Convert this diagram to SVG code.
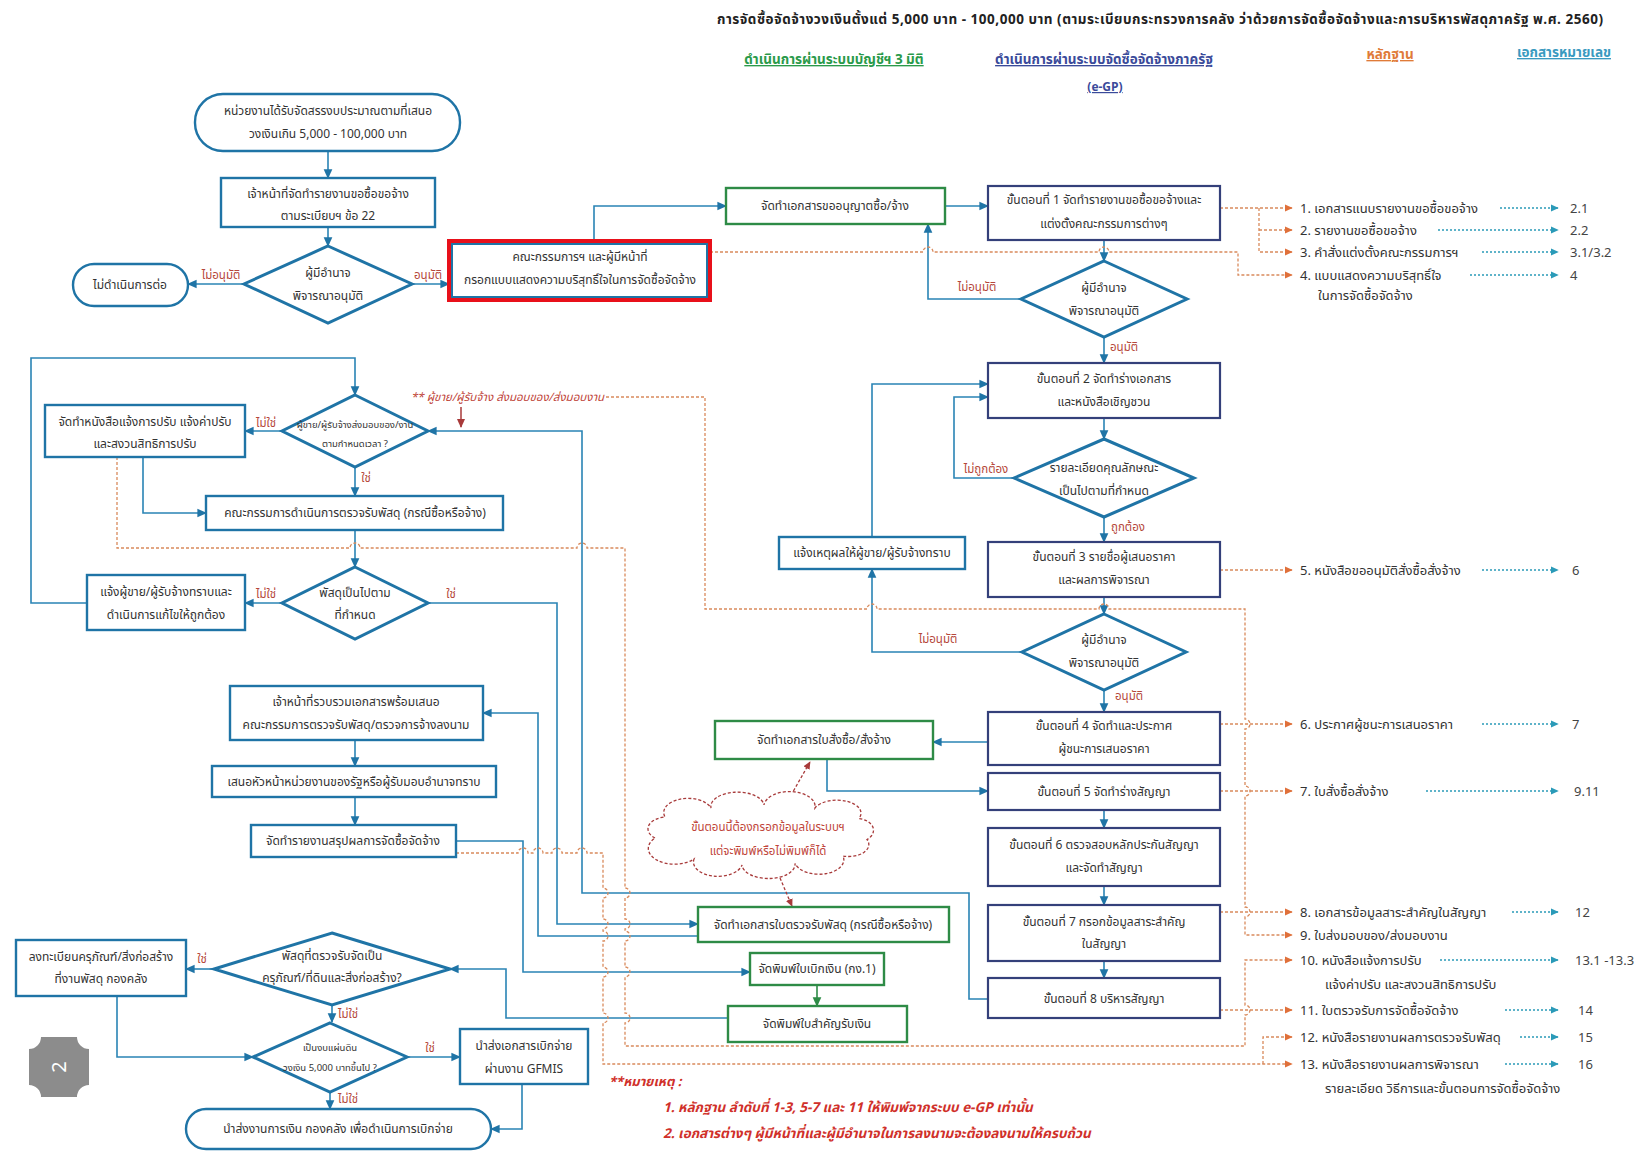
<svg xmlns="http://www.w3.org/2000/svg" width="1638" height="1152" viewBox="0 0 1638 1152">
<defs>
<style>
text{font-family:"Noto Sans Thai","Noto Sans","DejaVu Sans",sans-serif}
.t{font-size:12px;fill:#333;text-anchor:middle}
.ts{font-size:9.5px;fill:#333;text-anchor:middle}
.lbl{font-size:11.5px;fill:#b5473a;text-anchor:middle}
.ev{font-size:13px;fill:#333}
.num{font-size:13px;fill:#444}
.bb{fill:#fff;stroke:#1f74a6;stroke-width:2.4}
.dm{fill:#fff;stroke:#1f74a6;stroke-width:3}
.nv{fill:#fff;stroke:#34407a;stroke-width:2.2}
.gr{fill:#fff;stroke:#2e8b46;stroke-width:2.4}
.cb{fill:none;stroke:#2a84b5;stroke-width:1.6}
.cg{fill:none;stroke:#2e8b46;stroke-width:1.6}
.co{fill:none;stroke:#d98a5c;stroke-width:1.3;stroke-dasharray:3 2}
.ct{fill:none;stroke:#2a9ab8;stroke-width:1.3;stroke-dasharray:2 2}
.cr{fill:none;stroke:#a83a3a;stroke-width:1.3;stroke-dasharray:3 2}
</style>
<marker id="ab" viewBox="0 0 10 10" refX="9" refY="5" markerWidth="6" markerHeight="6" orient="auto"><path d="M0,0.5 L10,5 L0,9.5 z" fill="#1f74a6"/></marker>
<marker id="ag" viewBox="0 0 10 10" refX="9" refY="5" markerWidth="6" markerHeight="6" orient="auto"><path d="M0,0.5 L10,5 L0,9.5 z" fill="#2e8b46"/></marker>
<marker id="ao" viewBox="0 0 10 10" refX="9" refY="5" markerWidth="6" markerHeight="6" orient="auto"><path d="M0,0.5 L10,5 L0,9.5 z" fill="#e0703a"/></marker>
<marker id="at" viewBox="0 0 10 10" refX="9" refY="5" markerWidth="6" markerHeight="6" orient="auto"><path d="M0,0.5 L10,5 L0,9.5 z" fill="#2a9ab8"/></marker>
<marker id="ar" viewBox="0 0 10 10" refX="9" refY="5" markerWidth="6" markerHeight="6" orient="auto"><path d="M0,0.5 L10,5 L0,9.5 z" fill="#a83a3a"/></marker>
</defs>
<rect width="1638" height="1152" fill="#fff"/>

<g id="header">
<text x="717" y="24" style="font-size:13.5px;font-weight:bold;fill:#222" textLength="886">การจัดซื้อจัดจ้างวงเงินตั้งแต่ 5,000 บาท - 100,000 บาท (ตามระเบียบกระทรวงการคลัง ว่าด้วยการจัดซื้อจัดจ้างและการบริหารพัสดุภาครัฐ พ.ศ. 2560)</text>
<text x="834" y="64" text-anchor="middle" text-decoration="underline" style="font-size:13.5px;font-weight:bold;fill:#2a9a4a">ดำเนินการผ่านระบบบัญชีฯ 3 มิติ</text>
<text x="1104" y="64" text-anchor="middle" text-decoration="underline" style="font-size:13.5px;font-weight:bold;fill:#3a4a9a">ดำเนินการผ่านระบบจัดซื้อจัดจ้างภาครัฐ</text>
<text x="1105" y="91" text-anchor="middle" text-decoration="underline" style="font-size:12px;font-weight:bold;fill:#3a4a9a">(e-GP)</text>
<text x="1390" y="59" text-anchor="middle" text-decoration="underline" style="font-size:13.5px;font-weight:bold;fill:#e07b39">หลักฐาน</text>
<text x="1564" y="57" text-anchor="middle" text-decoration="underline" style="font-size:13.5px;font-weight:bold;fill:#3a9ac0">เอกสารหมายเลข</text>
</g>

<g id="connectors">
<path class="cb" marker-end="url(#ab)" d="M328 151 V178"/>
<path class="cb" marker-end="url(#ab)" d="M328 227 V246"/>
<path class="cb" marker-end="url(#ab)" d="M244 284 H188"/>
<path class="cb" marker-end="url(#ab)" d="M412 284 H449"/>
<path class="cb" marker-end="url(#ab)" d="M594 241 V206 H726"/>
<path class="cb" marker-end="url(#ab)" d="M945 206 H988"/>
<path class="cb" marker-end="url(#ab)" d="M1104 240 V261"/>
<path class="cb" marker-end="url(#ab)" d="M1021 299 H928 V224"/>
<path class="cb" marker-end="url(#ab)" d="M1104 337 V363"/>
<path class="cb" marker-end="url(#ab)" d="M1104 418 V439"/>
<path class="cb" marker-end="url(#ab)" d="M1014 478 H954 V397 H988"/>
<path class="cb" marker-end="url(#ab)" d="M1104 517 V542"/>
<path class="cb" marker-end="url(#ab)" d="M1104 597 V614"/>
<path class="cb" marker-end="url(#ab)" d="M1022 652 H872 V569"/>
<path class="cb" marker-end="url(#ab)" d="M872 537 V384 H988"/>
<path class="cb" marker-end="url(#ab)" d="M1104 690 V712"/>
<path class="cb" marker-end="url(#ab)" d="M988 742 H933"/>
<path class="cb" marker-end="url(#ab)" d="M827 759 V791 H988"/>
<path class="cb" marker-end="url(#ab)" d="M1104 810 V828"/>
<path class="cb" marker-end="url(#ab)" d="M1104 886 V905"/>
<path class="cb" marker-end="url(#ab)" d="M1104 961 V978"/>
<path class="cb" marker-end="url(#ab)" d="M988 999 H969 V893 H582 V431 H428"/>
<path class="cb" marker-end="url(#ab)" d="M87 603 H31 V358 H355 V395"/>
<path class="cb" marker-end="url(#ab)" d="M282 431 H245"/>
<path class="cb" marker-end="url(#ab)" d="M355 467 V496"/>
<path class="cb" marker-end="url(#ab)" d="M143 457 V513 H206"/>
<path class="cb" marker-end="url(#ab)" d="M355 530 V567"/>
<path class="cb" marker-end="url(#ab)" d="M282 603 H245"/>
<path class="cb" marker-end="url(#ab)" d="M428 603 H557 V924 H698"/>
<path class="cb" marker-end="url(#ab)" d="M698 936 H538 V713 H483"/>
<path class="cb" marker-end="url(#ab)" d="M355 740 V766"/>
<path class="cb" marker-end="url(#ab)" d="M355 797 V825"/>
<path class="cb" marker-end="url(#ab)" d="M456 841 H523 V972 H750"/>
<path class="cg" marker-end="url(#ag)" d="M817 985 V1006"/>
<path class="cb" marker-end="url(#ab)" d="M728 1018 H506 V969 H450"/>
<path class="cb" marker-end="url(#ab)" d="M214 969 H186"/>
<path class="cb" marker-end="url(#ab)" d="M332 1005 V1022"/>
<path class="cb" marker-end="url(#ab)" d="M117 996 V1057 H253"/>
<path class="cb" marker-end="url(#ab)" d="M407 1057 H460"/>
<path class="cb" marker-end="url(#ab)" d="M330 1092 V1109"/>
<path class="cb" marker-end="url(#ab)" d="M522 1084 V1129 H491"/>

<path class="co" marker-end="url(#ao)" d="M1220 208 H1292"/>
<path class="co" marker-end="url(#ao)" d="M1259 208 V252 H1292"/>
<path class="co" marker-end="url(#ao)" d="M1259 230 H1292"/>
<path class="co" marker-end="url(#ao)" d="M710 252 H923 A5 5 0 0 1 933 252 H1099 A5 5 0 0 1 1109 252 H1238 V275 H1292"/>
<path class="co" marker-end="url(#ao)" d="M1220 570 H1292"/>
<path class="co" marker-end="url(#ao)" d="M606 397 H705 V609 H867 A5 5 0 0 1 877 609 H1099 A5 5 0 0 1 1109 609 H1245 V719 A5 5 0 0 1 1245 729 V786 A5 5 0 0 1 1245 796 V907 A5 5 0 0 1 1245 917 V935 H1292"/>
<path class="co" marker-end="url(#ao)" d="M1220 724 H1292"/>
<path class="co" marker-end="url(#ao)" d="M1220 791 H1292"/>
<path class="co" marker-end="url(#ao)" d="M1220 912 H1292"/>
<path class="co" marker-end="url(#ao)" d="M1220 1010 H1292"/>
<path class="co" marker-end="url(#ao)" d="M117 457 V548 H350 A5 5 0 0 1 360 548 H577 A5 5 0 0 1 587 548 H625 V888 A5 5 0 0 1 625 898 V919 A5 5 0 0 1 625 929 V931 A5 5 0 0 1 625 941 V967 A5 5 0 0 1 625 977 V1013 A5 5 0 0 1 625 1023 V1046 H1245 V1015 A5 5 0 0 0 1245 1005 V960 H1292"/>
<path class="co" marker-end="url(#ao)" d="M456 853 H518 A5 5 0 0 1 528 853 H533 A5 5 0 0 1 543 853 H552 A5 5 0 0 1 562 853 H577 A5 5 0 0 1 587 853 H603 V888 A5 5 0 0 1 603 898 V919 A5 5 0 0 1 603 929 V931 A5 5 0 0 1 603 941 V967 A5 5 0 0 1 603 977 V1013 A5 5 0 0 1 603 1023 V1064 H1292"/>
<path class="co" marker-end="url(#ao)" d="M1263 1064 V1037 H1292"/>

<path class="ct" marker-end="url(#at)" d="M1500 208 H1558"/>
<path class="ct" marker-end="url(#at)" d="M1438 230 H1558"/>
<path class="ct" marker-end="url(#at)" d="M1482 252 H1558"/>
<path class="ct" marker-end="url(#at)" d="M1470 275 H1558"/>
<path class="ct" marker-end="url(#at)" d="M1482 570 H1558"/>
<path class="ct" marker-end="url(#at)" d="M1482 724 H1558"/>
<path class="ct" marker-end="url(#at)" d="M1426 791 H1558"/>
<path class="ct" marker-end="url(#at)" d="M1512 912 H1558"/>
<path class="ct" marker-end="url(#at)" d="M1440 960 H1558"/>
<path class="ct" marker-end="url(#at)" d="M1505 1010 H1558"/>
<path class="ct" marker-end="url(#at)" d="M1520 1037 H1558"/>
<path class="ct" marker-end="url(#at)" d="M1505 1064 H1558"/>

<path class="cr" marker-end="url(#ar)" d="M786 804 L810 762"/>
<path class="cr" marker-end="url(#ar)" d="M780 878 L792 906"/>
<path fill="none" stroke="#a83a3a" stroke-width="1.5" marker-end="url(#ar)" d="M461 407 V427"/>
</g>

<g id="conn-labels">
<text class="lbl" x="221" y="279">ไม่อนุมัติ</text>
<text class="lbl" x="428" y="279">อนุมัติ</text>
<text class="lbl" x="977" y="291">ไม่อนุมัติ</text>
<text class="lbl" x="1124" y="351">อนุมัติ</text>
<text class="lbl" x="986" y="473">ไม่ถูกต้อง</text>
<text class="lbl" x="1128" y="531">ถูกต้อง</text>
<text class="lbl" x="938" y="643">ไม่อนุมัติ</text>
<text class="lbl" x="1129" y="700">อนุมัติ</text>
<text class="lbl" x="266" y="427">ไม่ใช่</text>
<text class="lbl" x="366" y="482">ใช่</text>
<text class="lbl" x="266" y="598">ไม่ใช่</text>
<text class="lbl" x="451" y="598">ใช่</text>
<text class="lbl" x="202" y="963">ใช่</text>
<text class="lbl" x="348" y="1018">ไม่ใช่</text>
<text class="lbl" x="430" y="1052">ใช่</text>
<text class="lbl" x="348" y="1103">ไม่ใช่</text>
<text x="411" y="401" style="font-size:11.5px;font-style:italic;fill:#c0453a">** ผู้ขาย/ผู้รับจ้าง ส่งมอบของ/ส่งมอบงาน</text>
</g>

<g id="n-start"><rect class="bb" x="195" y="94" width="265" height="57" rx="28"/><text class="t" x="328" y="115">หน่วยงานได้รับจัดสรรงบประมาณตามที่เสนอ</text><text class="t" x="328" y="138">วงเงินเกิน 5,000 - 100,000 บาท</text></g>
<g id="n-report"><rect class="bb" x="221" y="178" width="214" height="49"/><text class="t" x="328" y="198">เจ้าหน้าที่จัดทำรายงานขอซื้อขอจ้าง</text><text class="t" x="328" y="220">ตามระเบียบฯ ข้อ 22</text></g>
<g id="n-approve1"><path class="dm" d="M328 246 L412 284 L328 323 L244 284 Z"/><text class="t" x="328" y="277">ผู้มีอำนาจ</text><text class="t" x="328" y="300">พิจารณาอนุมัติ</text></g>
<g id="n-stop"><rect class="bb" x="73" y="264" width="115" height="42" rx="21"/><text class="t" x="130" y="289">ไม่ดำเนินการต่อ</text></g>
<g id="n-committee"><rect fill="#fff" stroke="#1f74a6" stroke-width="2" x="452" y="244" width="255" height="53"/><rect fill="none" stroke="#e8101a" stroke-width="4" x="449" y="241" width="261" height="59"/><text class="t" x="580" y="261">คณะกรรมการฯ และผู้มีหน้าที่</text><text class="t" x="580" y="284">กรอกแบบแสดงความบริสุทธิ์ใจในการจัดซื้อจัดจ้าง</text></g>

<g id="n-permit"><rect class="gr" x="726" y="188" width="219" height="36"/><text class="t" x="835" y="210">จัดทำเอกสารขออนุญาตซื้อ/จ้าง</text></g>
<g id="n-step1"><rect class="nv" x="988" y="186" width="232" height="54"/><text class="t" x="1104" y="204">ขั้นตอนที่ 1 จัดทำรายงานขอซื้อขอจ้างและ</text><text class="t" x="1104" y="228">แต่งตั้งคณะกรรมการต่างๆ</text></g>
<g id="n-approve2"><path class="dm" d="M1104 261 L1187 299 L1104 337 L1021 299 Z"/><text class="t" x="1104" y="292">ผู้มีอำนาจ</text><text class="t" x="1104" y="315">พิจารณาอนุมัติ</text></g>
<g id="n-step2"><rect class="nv" x="988" y="363" width="232" height="55"/><text class="t" x="1104" y="383">ขั้นตอนที่ 2 จัดทำร่างเอกสาร</text><text class="t" x="1104" y="406">และหนังสือเชิญชวน</text></g>
<g id="n-spec"><path class="dm" d="M1104 439 L1194 478 L1104 517 L1014 478 Z"/><text class="t" x="1104" y="472">รายละเอียดคุณลักษณะ</text><text class="t" x="1104" y="495">เป็นไปตามที่กำหนด</text></g>
<g id="n-step3"><rect class="nv" x="988" y="542" width="232" height="55"/><text class="t" x="1104" y="561">ขั้นตอนที่ 3 รายชื่อผู้เสนอราคา</text><text class="t" x="1104" y="584">และผลการพิจารณา</text></g>
<g id="n-approve3"><path class="dm" d="M1104 614 L1186 652 L1104 690 L1022 652 Z"/><text class="t" x="1104" y="644">ผู้มีอำนาจ</text><text class="t" x="1104" y="667">พิจารณาอนุมัติ</text></g>
<g id="n-notify"><rect class="bb" x="779" y="537" width="186" height="32"/><text class="t" x="872" y="557">แจ้งเหตุผลให้ผู้ขาย/ผู้รับจ้างทราบ</text></g>
<g id="n-step4"><rect class="nv" x="988" y="712" width="232" height="53"/><text class="t" x="1104" y="730">ขั้นตอนที่ 4 จัดทำและประกาศ</text><text class="t" x="1104" y="753">ผู้ชนะการเสนอราคา</text></g>
<g id="n-po"><rect class="gr" x="715" y="721" width="218" height="38"/><text class="t" x="824" y="744">จัดทำเอกสารใบสั่งซื้อ/สั่งจ้าง</text></g>
<g id="n-step5"><rect class="nv" x="988" y="773" width="232" height="37"/><text class="t" x="1104" y="796">ขั้นตอนที่ 5 จัดทำร่างสัญญา</text></g>
<g id="n-step6"><rect class="nv" x="988" y="828" width="232" height="58"/><text class="t" x="1104" y="849">ขั้นตอนที่ 6 ตรวจสอบหลักประกันสัญญา</text><text class="t" x="1104" y="872">และจัดทำสัญญา</text></g>
<g id="n-step7"><rect class="nv" x="988" y="905" width="232" height="56"/><text class="t" x="1104" y="926">ขั้นตอนที่ 7 กรอกข้อมูลสาระสำคัญ</text><text class="t" x="1104" y="948">ในสัญญา</text></g>
<g id="n-step8"><rect class="nv" x="988" y="978" width="232" height="40"/><text class="t" x="1104" y="1003">ขั้นตอนที่ 8 บริหารสัญญา</text></g>

<g id="n-deliver"><path class="dm" d="M355 395 L428 431 L355 467 L282 431 Z"/><text class="ts" x="355" y="428">ผู้ขาย/ผู้รับจ้างส่งมอบของ/งาน</text><text class="ts" x="355" y="447">ตามกำหนดเวลา ?</text></g>
<g id="n-fine"><rect class="bb" x="45" y="405" width="200" height="52"/><text class="t" x="145" y="426">จัดทำหนังสือแจ้งการปรับ แจ้งค่าปรับ</text><text class="t" x="145" y="448">และสงวนสิทธิการปรับ</text></g>
<g id="n-inspect"><rect class="bb" x="206" y="496" width="297" height="34"/><text class="t" x="355" y="517">คณะกรรมการดำเนินการตรวจรับพัสดุ (กรณีซื้อหรือจ้าง)</text></g>
<g id="n-asspec"><path class="dm" d="M355 567 L428 603 L355 639 L282 603 Z"/><text class="t" x="355" y="597">พัสดุเป็นไปตาม</text><text class="t" x="355" y="619">ที่กำหนด</text></g>
<g id="n-fix"><rect class="bb" x="87" y="575" width="158" height="55"/><text class="t" x="166" y="596">แจ้งผู้ขาย/ผู้รับจ้างทราบและ</text><text class="t" x="166" y="619">ดำเนินการแก้ไขให้ถูกต้อง</text></g>
<g id="n-collect"><rect class="bb" x="230" y="686" width="253" height="54"/><text class="t" x="356" y="706">เจ้าหน้าที่รวบรวมเอกสารพร้อมเสนอ</text><text class="t" x="356" y="729">คณะกรรมการตรวจรับพัสดุ/ตรวจการจ้างลงนาม</text></g>
<g id="n-head"><rect class="bb" x="212" y="766" width="284" height="31"/><text class="t" x="354" y="786">เสนอหัวหน้าหน่วยงานของรัฐหรือผู้รับมอบอำนาจทราบ</text></g>
<g id="n-summary"><rect class="bb" x="251" y="825" width="205" height="32"/><text class="t" x="353" y="845">จัดทำรายงานสรุปผลการจัดซื้อจัดจ้าง</text></g>
<g id="n-receipt"><rect class="gr" x="698" y="907" width="251" height="35"/><text class="t" x="823" y="929">จัดทำเอกสารใบตรวจรับพัสดุ (กรณีซื้อหรือจ้าง)</text></g>
<g id="n-gl1"><rect class="gr" x="750" y="953" width="134" height="32"/><text class="t" x="817" y="973">จัดพิมพ์ใบเบิกเงิน (กง.1)</text></g>
<g id="n-voucher"><rect class="gr" x="728" y="1006" width="179" height="36"/><text class="t" x="817" y="1028">จัดพิมพ์ใบสำคัญรับเงิน</text></g>
<g id="n-asset"><path class="dm" d="M332 933 L450 969 L332 1005 L214 969 Z"/><text class="t" x="332" y="960">พัสดุที่ตรวจรับจัดเป็น</text><text class="t" x="332" y="982">ครุภัณฑ์/ที่ดินและสิ่งก่อสร้าง?</text></g>
<g id="n-register"><rect class="bb" x="16" y="940" width="170" height="56"/><text class="t" x="101" y="961">ลงทะเบียนครุภัณฑ์/สิ่งก่อสร้าง</text><text class="t" x="101" y="983">ที่งานพัสดุ กองคลัง</text></g>
<g id="n-budget"><path class="dm" d="M330 1023 L407 1057 L330 1092 L253 1057 Z"/><text class="ts" x="330" y="1051">เป็นงบแผ่นดิน</text><text class="ts" x="330" y="1071">วงเงิน 5,000 บาทขึ้นไป ?</text></g>
<g id="n-gfmis"><rect class="bb" x="460" y="1029" width="128" height="55"/><text class="t" x="524" y="1050">นำส่งเอกสารเบิกจ่าย</text><text class="t" x="524" y="1073">ผ่านงาน GFMIS</text></g>
<g id="n-finance"><rect class="bb" x="186" y="1109" width="305" height="40" rx="20"/><text class="t" x="338" y="1133">นำส่งงานการเงิน กองคลัง  เพื่อดำเนินการเบิกจ่าย</text></g>

<g id="n-cloud"><path fill="#fff" stroke="#a83a3a" stroke-width="1.3" stroke-dasharray="3 2" d="M655 838 a20 12 0 0 1 10 -21 a24 14 0 0 1 46 -9 a26 14 0 0 1 53 -3 a24 14 0 0 1 51 3 a22 12 0 0 1 44 10.5 a18 12 0 0 1 8 21 a20 12 0 0 1 -24 16.5 a24 14 0 0 1 -48 7.5 a26 14 0 0 1 -53 1.5 a24 14 0 0 1 -48 -6 a20 12 0 0 1 -39 -21 z"/><text x="768" y="831" text-anchor="middle" style="font-size:11.5px;fill:#c0453a">ขั้นตอนนี้ต้องกรอกข้อมูลในระบบฯ</text><text x="768" y="855" text-anchor="middle" style="font-size:11.5px;fill:#c0453a">แต่จะพิมพ์หรือไม่พิมพ์ก็ได้</text></g>

<g id="evidence">
<text class="ev" x="1300" y="213">1. เอกสารแนบรายงานขอซื้อขอจ้าง</text>
<text class="ev" x="1300" y="235">2. รายงานขอซื้อขอจ้าง</text>
<text class="ev" x="1300" y="257">3. คำสั่งแต่งตั้งคณะกรรมการฯ</text>
<text class="ev" x="1300" y="280">4. แบบแสดงความบริสุทธิ์ใจ</text>
<text class="ev" x="1318" y="300">ในการจัดซื้อจัดจ้าง</text>
<text class="ev" x="1300" y="575">5. หนังสือขออนุมัติสั่งซื้อสั่งจ้าง</text>
<text class="ev" x="1300" y="729">6. ประกาศผู้ชนะการเสนอราคา</text>
<text class="ev" x="1300" y="796">7. ใบสั่งซื้อสั่งจ้าง</text>
<text class="ev" x="1300" y="917">8. เอกสารข้อมูลสาระสำคัญในสัญญา</text>
<text class="ev" x="1300" y="940">9. ใบส่งมอบของ/ส่งมอบงาน</text>
<text class="ev" x="1300" y="965">10. หนังสือแจ้งการปรับ</text>
<text class="ev" x="1325" y="989">แจ้งค่าปรับ และสงวนสิทธิการปรับ</text>
<text class="ev" x="1300" y="1015">11. ใบตรวจรับการจัดซื้อจัดจ้าง</text>
<text class="ev" x="1300" y="1042">12. หนังสือรายงานผลการตรวจรับพัสดุ</text>
<text class="ev" x="1300" y="1069">13. หนังสือรายงานผลการพิจารณา</text>
<text class="ev" x="1325" y="1093">รายละเอียด วิธีการและขั้นตอนการจัดซื้อจัดจ้าง</text>
<text class="num" x="1570" y="213">2.1</text>
<text class="num" x="1570" y="235">2.2</text>
<text class="num" x="1570" y="257">3.1/3.2</text>
<text class="num" x="1570" y="280">4</text>
<text class="num" x="1572" y="575">6</text>
<text class="num" x="1572" y="729">7</text>
<text class="num" x="1574" y="796">9.11</text>
<text class="num" x="1575" y="917">12</text>
<text class="num" x="1575" y="965">13.1 -13.3</text>
<text class="num" x="1578" y="1015">14</text>
<text class="num" x="1578" y="1042">15</text>
<text class="num" x="1578" y="1069">16</text>
</g>

<g id="notes">
<text x="609" y="1086" style="font-size:13px;font-weight:bold;font-style:italic;fill:#d0302a">**หมายเหตุ :</text>
<text x="663" y="1112" style="font-size:13.5px;font-weight:bold;font-style:italic;fill:#d0302a">1. หลักฐาน ลำดับที่ 1-3, 5-7 และ 11 ให้พิมพ์จากระบบ e-GP เท่านั้น</text>
<text x="663" y="1138" style="font-size:13.5px;font-weight:bold;font-style:italic;fill:#d0302a">2. เอกสารต่างๆ ผู้มีหน้าที่และผู้มีอำนาจในการลงนามจะต้องลงนามให้ครบถ้วน</text>
</g>

<g id="page-badge"><path fill="#8c8c8c" d="M41 1037 H77 A12 12 0 0 0 89 1049 V1085 A12 12 0 0 0 77 1097 H41 A12 12 0 0 0 29 1085 V1049 A12 12 0 0 0 41 1037 Z"/><text x="59" y="1074" text-anchor="middle" transform="rotate(-90 59 1067)" style="font-size:20px;fill:#fff">2</text></g>
</svg>
